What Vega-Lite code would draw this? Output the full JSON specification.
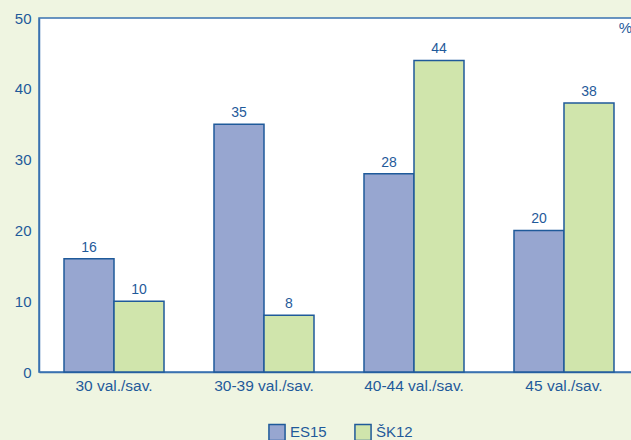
{
  "$schema": "https://vega.github.io/schema/vega-lite/v6.json",
  "autosize": {"type": "none"},
  "padding": {"left": 39, "top": 18, "right": 0, "bottom": 68},
  "width": 600,
  "height": 354,
  "background": "#EFF5E1",
  "config": {
    "view": {"fill": "#FFFFFF", "stroke": "#3A72B0", "strokeWidth": 1.5},
    "font": "Liberation Sans",
    "axis": {"labelColor": "#1F5A9A", "titleColor": "#1F5A9A", "labelFontSize": 15, "domainColor": "#3A72B0", "domainWidth": 1.5, "ticks": false, "grid": false},
    "legend": {"labelColor": "#1F5A9A", "labelFontSize": 15}
  },
  "data": {"values": [
    {"cat": "30 val./sav.", "series": "ES15", "value": 16},
    {"cat": "30 val./sav.", "series": "ŠK12", "value": 10},
    {"cat": "30-39 val./sav.", "series": "ES15", "value": 35},
    {"cat": "30-39 val./sav.", "series": "ŠK12", "value": 8},
    {"cat": "40-44 val./sav.", "series": "ES15", "value": 28},
    {"cat": "40-44 val./sav.", "series": "ŠK12", "value": 44},
    {"cat": "45 val./sav.", "series": "ES15", "value": 20},
    {"cat": "45 val./sav.", "series": "ŠK12", "value": 38}
  ]},
  "encoding": {
    "x": {"field": "cat", "type": "nominal", "sort": null,
      "scale": {"paddingInner": 0.3333, "paddingOuter": 0.1667},
      "axis": {"title": null, "labelAngle": 0, "labelPadding": 6, "labelFontSize": 15.5}},
    "xOffset": {"field": "series", "type": "nominal", "scale": {"paddingInner": 0, "paddingOuter": 0}},
    "y": {"field": "value", "type": "quantitative",
      "scale": {"domain": [0, 50], "nice": false},
      "axis": {"title": "%", "titleAngle": 0, "titleX": 586, "titleY": 17, "titleFontSize": 15, "titleFontWeight": "normal", "values": [0, 10, 20, 30, 40, 50], "labelOverlap": false, "labelFlush": false, "labelBound": false, "labelPadding": 8, "labelFontSize": 15}}
  },
  "layer": [
    {
      "mark": {"type": "bar", "stroke": "#1F5A9A", "strokeWidth": 1.5},
      "encoding": {
        "color": {"field": "series", "type": "nominal",
          "scale": {"domain": ["ES15", "ŠK12"], "range": ["#97A6D0", "#D0E5AC"]},
          "legend": {"title": null, "orient": "none", "legendX": 229, "legendY": 405, "direction": "horizontal", "symbolType": "square", "symbolSize": 260, "symbolStrokeColor": "#1F5A9A", "symbolStrokeWidth": 1.5, "symbolOpacity": 1, "columnPadding": 24, "labelOffset": 4}}
      }
    },
    {
      "mark": {"type": "text", "dy": -11, "color": "#1F5A9A", "fontSize": 14},
      "encoding": {"text": {"field": "value", "type": "quantitative"}}
    }
  ]
}
